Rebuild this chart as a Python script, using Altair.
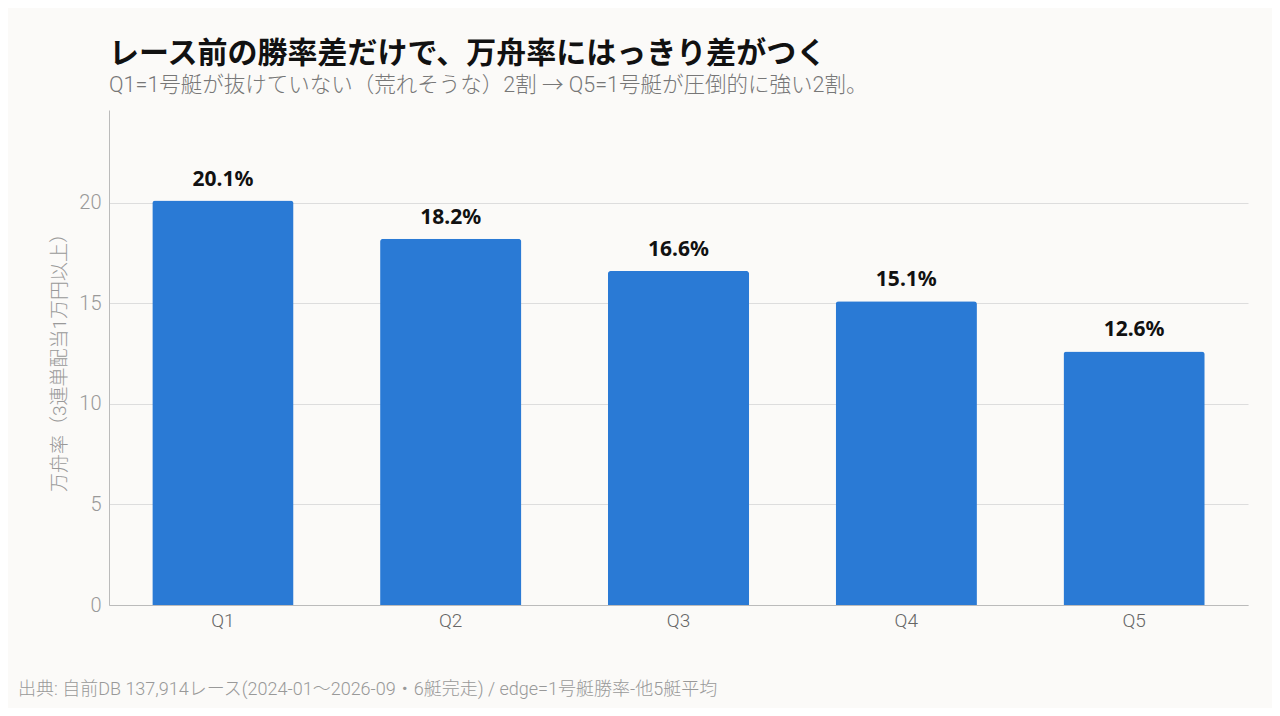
import altair as alt
import pandas as pd

categories = ["Q1", "Q2", "Q3", "Q4", "Q5"]
values = [20.1, 18.2, 16.6, 15.1, 12.6]
labels = ["20.1%", "18.2%", "16.6%", "15.1%", "12.6%"]

df = pd.DataFrame({"q": categories, "v": values, "lab": labels})
FONT = "Roboto, Noto Sans CJK JP"
CJK = "Noto Sans CJK JP"

x = alt.X("q:N", sort=categories, title=None,
          scale=alt.Scale(paddingInner=0.38, paddingOuter=0.19),
          axis=alt.Axis(labelAngle=0, labelFontSize=19, labelColor="#666666",
                        labelFont=FONT, labelFontWeight=300, ticks=False,
                        domainColor="#BBBBBB", labelPadding=6))
y = alt.Y("v:Q", title="万舟率（3連単配当1万円以上）",
          scale=alt.Scale(domain=[0, 24.6], nice=False),
          axis=alt.Axis(values=[0, 5, 10, 15, 20], labelFontSize=20, labelColor="#999999",
                        labelFont=FONT, labelFontWeight=300, ticks=False, domainColor="#BBBBBB",
                        gridColor="#DDDDDD", titleFont=FONT, titleFontSize=19,
                        titleColor="#999999", titleFontWeight=300, titlePadding=9,
                        labelPadding=8))

bars = alt.Chart(df).mark_bar(color="#2A7AD5", cornerRadiusTopLeft=3,
                              cornerRadiusTopRight=3).encode(x=x, y=y)
text = alt.Chart(df).mark_text(dy=-11, baseline="bottom", fontSize=21, fontWeight="bold",
                               font="Noto Sans", color="#111111").encode(
    x=alt.X("q:N", sort=categories), y="v:Q", text="lab:N")
footer = alt.Chart(pd.DataFrame({"t": ["出典: 自前DB 137,914レース(2024-01〜2026-09・6艇完走) / edge=1号艇勝率-他5艇平均"]})).mark_text(
    align="left", baseline="middle", fontSize=18, font=FONT, fontWeight=300, color="#999999"
).encode(x=alt.value(-91), y=alt.value(580), text="t:N")

chart = alt.layer(bars, text, footer).properties(
    width=1139, height=495,
    background="#FBFAF8",
    padding={"left": 101, "top": 102, "right": 24, "bottom": 103},
    autosize=alt.AutoSizeParams(type="none"),
    title=alt.TitleParams(
        text="レース前の勝率差だけで、万舟率にはっきり差がつく",
        subtitle="Q1=1号艇が抜けていない（荒れそうな）2割 → Q5=1号艇が圧倒的に強い2割。",
        anchor="start", frame="group", font=CJK, fontSize=30, fontWeight="bold", color="#111111",
        subtitleFont=FONT, subtitleFontSize=21.5, subtitleFontWeight=300, subtitleColor="#777777",
        offset=14, subtitlePadding=6),
).configure_view(stroke=None).configure_axisX(grid=False)

chart.save("out.html", embed_options={"renderer": "svg", "actions": False})
